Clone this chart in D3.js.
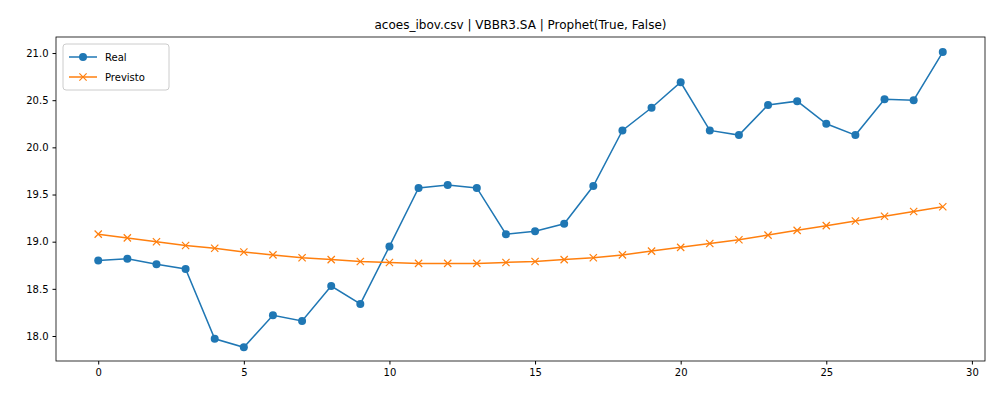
<!DOCTYPE html>
<html><head><meta charset="utf-8">
<script src="https://cdn.jsdelivr.net/npm/d3@7"></script>
<style>body{margin:0;background:#fff}text{font-family:"DejaVu Sans",sans-serif}</style>
</head><body><svg id="chart" width="1000" height="400"></svg>
<script>
var real = [18.80,18.82,18.76,18.71,17.97,17.88,18.22,18.16,18.53,18.34,18.95,19.57,19.60,19.57,19.08,19.11,19.19,19.59,20.18,20.42,20.69,20.18,20.13,20.45,20.49,20.25,20.13,20.51,20.50,21.01];
var previsto = [19.08,19.04,19.00,18.96,18.93,18.89,18.86,18.83,18.81,18.79,18.78,18.77,18.77,18.77,18.78,18.79,18.81,18.83,18.86,18.90,18.94,18.98,19.02,19.07,19.12,19.17,19.22,19.27,19.32,19.37];
var xTicks = [0,5,10,15,20,25,30];
var yTicks = [18.0,18.5,19.0,19.5,20.0,20.5,21.0];

(function() {
var svg = d3.select("#chart");
var pLeft = 56, pRight = 985, pTop = 37, pBottom = 361;
var x = d3.scaleLinear().domain([-1.45, 30.45]).range([pLeft, pRight]);
var y = d3.scaleLinear().domain([17.735, 21.17]).range([pBottom, pTop]);

svg.append("g").attr("transform","translate(0,"+pBottom+")")
  .call(d3.axisBottom(x).tickValues(xTicks).tickSize(3.5).tickPadding(4).tickFormat(d3.format("d")))
  .call(g=>g.select(".domain").remove()).attr("font-size",10);
svg.append("g").attr("transform","translate("+pLeft+",0)")
  .call(d3.axisLeft(y).tickValues(yTicks).tickSize(3.5).tickPadding(4).tickFormat(d3.format(".1f")))
  .call(g=>g.select(".domain").remove()).attr("font-size",10);
svg.selectAll(".tick text").attr("fill","#000").attr("font-size",10);
svg.append("rect").attr("x",pLeft).attr("y",pTop).attr("width",pRight-pLeft).attr("height",pBottom-pTop)
  .attr("fill","none").attr("stroke","#000").attr("stroke-width",0.8);

var line = d3.line().x((d,i)=>x(i)).y(d=>y(d));
svg.append("path").datum(real).attr("d",line).attr("fill","none").attr("stroke","#1f77b4").attr("stroke-width",1.5);
svg.selectAll(".pt").data(real).enter().append("circle").attr("cx",(d,i)=>x(i)).attr("cy",d=>y(d)).attr("r",4).attr("fill","#1f77b4");
svg.append("path").datum(previsto).attr("d",line).attr("fill","none").attr("stroke","#ff7f0e").attr("stroke-width",1.5);
var cross = d3.symbol().type(d3.symbolX).size(36);
svg.selectAll(".px").data(previsto).enter().append("path").attr("d",cross)
  .attr("transform",(d,i)=>"translate("+x(i)+","+y(d)+")").attr("fill","none").attr("stroke","#ff7f0e").attr("stroke-width",1.2);

svg.append("text").attr("x",(pLeft+pRight)/2).attr("y",29).attr("text-anchor","middle").attr("font-size",12)
  .text("acoes_ibov.csv | VBBR3.SA | Prophet(True, False)");

var lg = svg.append("g").attr("transform","translate(63,44)");
lg.append("rect").attr("width",106).attr("height",46).attr("rx",3).attr("fill","#fff").attr("stroke","#ccc");
lg.append("line").attr("x1",6).attr("x2",34).attr("y1",13).attr("y2",13).attr("stroke","#1f77b4").attr("stroke-width",1.5);
lg.append("circle").attr("cx",20).attr("cy",13).attr("r",4).attr("fill","#1f77b4");
lg.append("text").attr("x",42).attr("y",17).attr("font-size",10).text("Real");
lg.append("line").attr("x1",6).attr("x2",34).attr("y1",33).attr("y2",33).attr("stroke","#ff7f0e").attr("stroke-width",1.5);
lg.append("path").attr("d",cross).attr("transform","translate(20,33)").attr("fill","none").attr("stroke","#ff7f0e").attr("stroke-width",1.2);
lg.append("text").attr("x",42).attr("y",37).attr("font-size",10).text("Previsto");
})();
</script></body></html>
